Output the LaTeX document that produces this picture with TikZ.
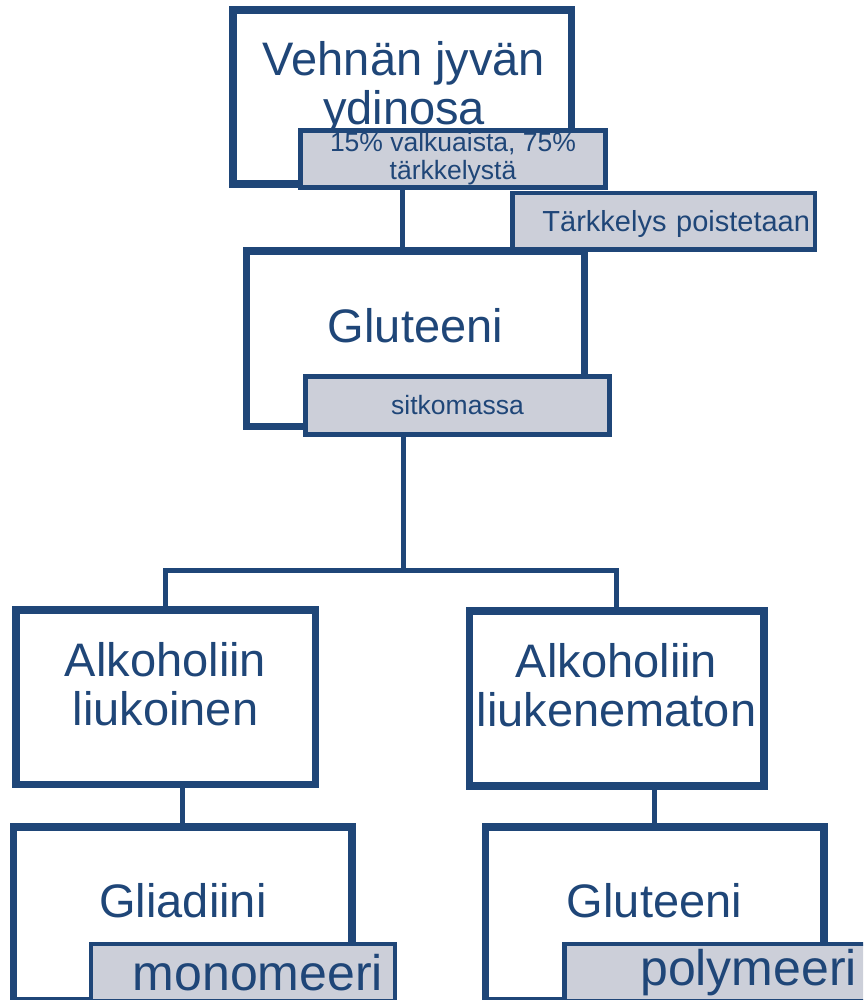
\documentclass[tikz,border=0pt]{standalone}
\usepackage{fontspec}
\setmainfont{Liberation Sans}
\definecolor{navy}{RGB}{31,70,120}
\definecolor{tagfill}{RGB}{204,207,217}

\begin{document}
\begin{tikzpicture}[x=1pt,y=-1pt,
  box/.style={draw=navy,fill=white,line width=7.5pt,inner sep=0pt},
  tag/.style={draw=navy,fill=tagfill,line width=4.5pt,inner sep=0pt,text=navy,align=center},
  big/.style={text=navy,inner sep=0pt,align=center,font=\fontsize{47}{49}\selectfont},
  link/.style={draw=navy,line width=5pt}]
\useasboundingbox (0,0) rectangle (863,1000);\clip (0,0) rectangle (863,1000);
% top: grain and gluten
\node[box,minimum width=338.5pt,minimum height=174pt] (grain) at (402.25,97) {};
\node[big] (grainText) at (404,88.3) {Vehnän jyvän\\ydinosa};
\node[tag,minimum width=305pt,minimum height=57pt,font=\fontsize{26.5}{28}\selectfont] (share) at (453,159) {15\% valkuaista, 75\%\\tärkkelystä};
\node[tag,minimum width=302.5pt,minimum height=56.5pt,text width=292.5pt,inner xsep=5pt,align=right,text depth=0pt,font=\fontsize{29}{31}\selectfont] (starch) at (663.75,221.25) {Tärkkelys poistetaan};
\node[box,minimum width=338pt,minimum height=175.5pt] (gluten) at (415.5,338.75) {};
\node[big,anchor=base] (glutenText) at (415.5,342) {Gluteeni};
\node[tag,minimum width=304pt,minimum height=58pt,font=\fontsize{26.5}{28}\selectfont] (mass) at (457.5,405.5) {sitkomassa};
% middle: alcohol fractions
\node[box,minimum width=299.5pt,minimum height=174.5pt] (soluble) at (165.75,697.25) {};
\node[big] (solubleText) at (165.5,684) {Alkoholiin\\liukoinen};
\node[box,minimum width=294.5pt,minimum height=175pt] (insoluble) at (616.75,698.5) {};
\node[big] (insolubleText) at (616.5,685.5) {Alkoholiin\\liukenematon};
% bottom: proteins
\node[box,minimum width=338.5pt,minimum height=173.5pt] (gliadin) at (182.75,913.75) {};
\node[big,anchor=base] (gliadinText) at (183,917) {Gliadiini};
\node[tag,minimum width=304pt,minimum height=57pt,text width=280pt,inner xsep=12pt,align=right,font=\fontsize{50}{52}\selectfont] (mono) at (243,972.5) {monomeeri};
\node[box,minimum width=338.5pt,minimum height=173.5pt] (glutenin) at (654.75,913.75) {};
\node[big,anchor=base] (gluteninText) at (654.5,917) {Gluteeni};
\node[tag,minimum width=304.5pt,minimum height=57pt,text width=280.5pt,inner xsep=12pt,align=right,font=\fontsize{50}{52}\selectfont] (poly) at (716.75,972.5) {polymeeri};
% connectors
\coordinate (split) at (403.5,570);
\draw[link] (grain.south) -- (grain.south |- gluten.north);
\draw[link] (split |- mass.south) -- (split) -| (soluble.north);
\draw[link] (split) -| (insoluble.north);
\foreach \a/\b in {gliadin/soluble,glutenin/insoluble} {\draw[link] (\a.north) -- (\a.north |- \b.south);}
\end{tikzpicture}
\end{document}
